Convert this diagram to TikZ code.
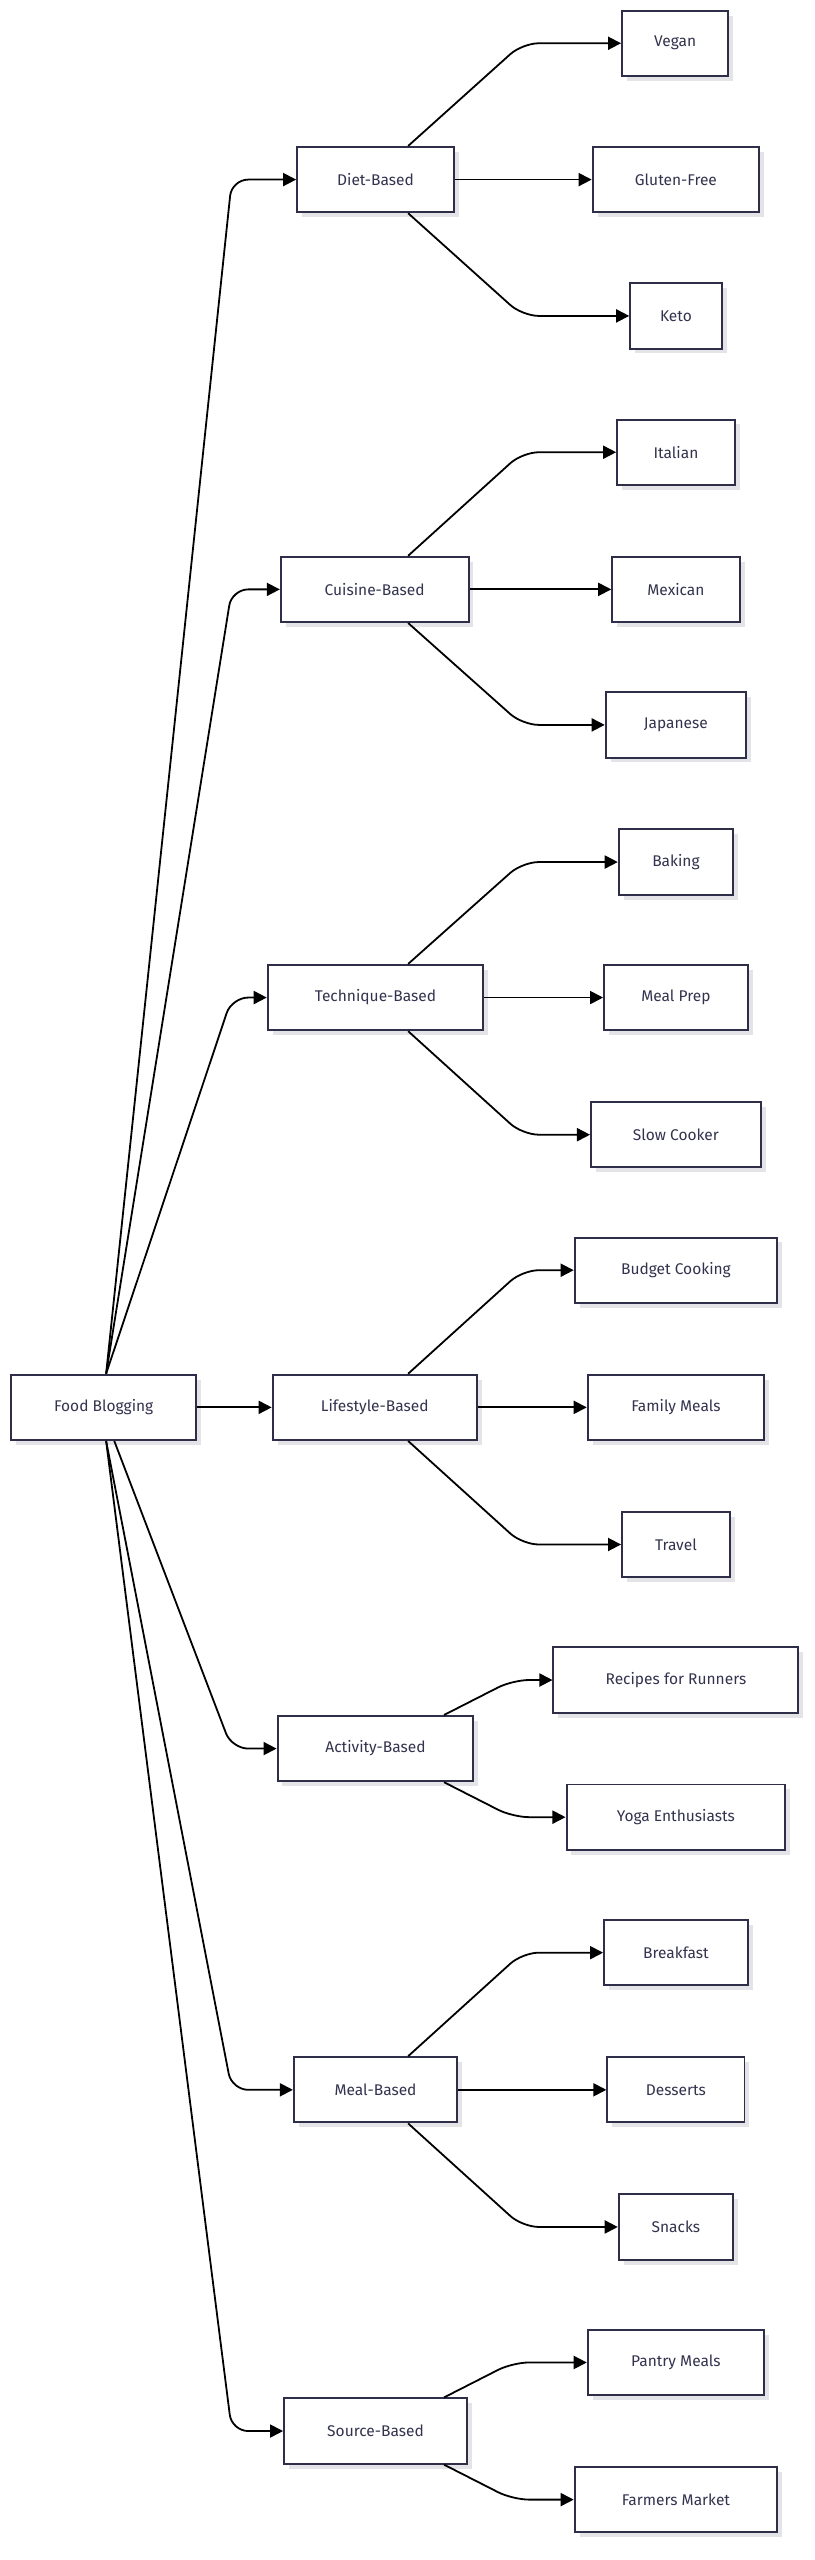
\documentclass[tikz,border=0pt]{standalone}
\usepackage{fontspec}
\setmainfont{Fira Sans}
\usetikzlibrary{arrows.meta,shadows}
\definecolor{bd}{HTML}{2E2E48}
\definecolor{tx}{HTML}{33334F}
\begin{document}
\begin{tikzpicture}[x=1pt,y=-1pt,
 box/.style={draw=bd,line width=1.2pt,fill=white,minimum height=40pt,inner sep=0pt,text=tx,font=\fontsize{9.5}{11}\selectfont,
   drop shadow={shadow xshift=3pt,shadow yshift=-3pt,fill=blue!8!gray!20,opacity=1}},
 ed/.style={line width=1.1pt,-{Triangle[length=8pt,width=8pt]},rounded corners=10pt}]
\useasboundingbox (0,0) rectangle (499,1568);
\newcommand{\bx}[4]{\node[box,minimum width=#3pt] (#1) at (#2) {#4};}
\bx{root}{63.5,862}{113}{Food Blogging}
\bx{diet}{230,110}{96}{Diet-Based}
\bx{cuis}{229.5,361}{115}{Cuisine-Based}
\bx{tech}{230,611}{132}{Technique-Based}
\bx{life}{229.5,862}{125}{Lifestyle-Based}
\bx{act}{230,1071}{120}{Activity-Based}
\bx{meal}{230,1280}{100}{Meal-Based}
\bx{src}{230,1489}{112}{Source-Based}
\bx{vegan}{413.5,26.5}{65}{Vegan}
\bx{glut}{414,110}{102}{Gluten-Free}
\bx{keto}{414,193.5}{56}{Keto}
\bx{ital}{414,277}{72}{Italian}
\bx{mex}{414,361}{78}{Mexican}
\bx{jap}{414,444}{86}{Japanese}
\bx{bak}{414,528}{70}{Baking}
\bx{prep}{414,611}{88}{Meal Prep}
\bx{slow}{414,695}{104}{Slow Cooker}
\bx{budg}{414,778}{124}{Budget Cooking}
\bx{fam}{414,862}{108}{Family Meals}
\bx{trav}{414,946}{66}{Travel}
\bx{run}{414,1029}{150}{Recipes for Runners}
\bx{yoga}{414,1113}{134}{Yoga Enthusiasts}
\bx{brk}{414,1196}{88}{Breakfast}
\bx{des}{414,1280}{84}{Desserts}
\bx{snk}{414,1364}{70}{Snacks}
\bx{pan}{414,1447}{108}{Pantry Meals}
\bx{farm}{414,1531}{124}{Farmers Market}
% root edges
\foreach \c in {diet,cuis,tech}{\draw[ed] (root.north -| 65,0) -- (142,0 |- \c.west) -- (\c.west);}
\draw[ed] (root) -- (life);
\draw[ed] (root.south -| 70,0) -- (142,0 |- act.west) -- (act.west);
\foreach \c in {meal,src}{\draw[ed] (root.south -| 65,0) -- (142,0 |- \c.west) -- (\c.west);}
% child edges
\foreach \p/\a/\b/\c in {diet/vegan/glut/keto,cuis/ital/mex/jap,tech/bak/prep/slow,life/budg/fam/trav,meal/brk/des/snk}{
 \draw[ed] (\p.north -| 250,0) -- (320,0 |- \a.west) -- (\a.west);
 \draw[ed] (\p) -- (\b);
 \draw[ed] (\p.south -| 250,0) -- (320,0 |- \c.west) -- (\c.west);}
\foreach \p/\a/\c in {act/run/yoga,src/pan/farm}{
 \draw[ed] (\p.north -| 272,0) -- (314,0 |- \a.west) -- (\a.west);
 \draw[ed] (\p.south -| 272,0) -- (314,0 |- \c.west) -- (\c.west);}
\end{tikzpicture}
\end{document}
